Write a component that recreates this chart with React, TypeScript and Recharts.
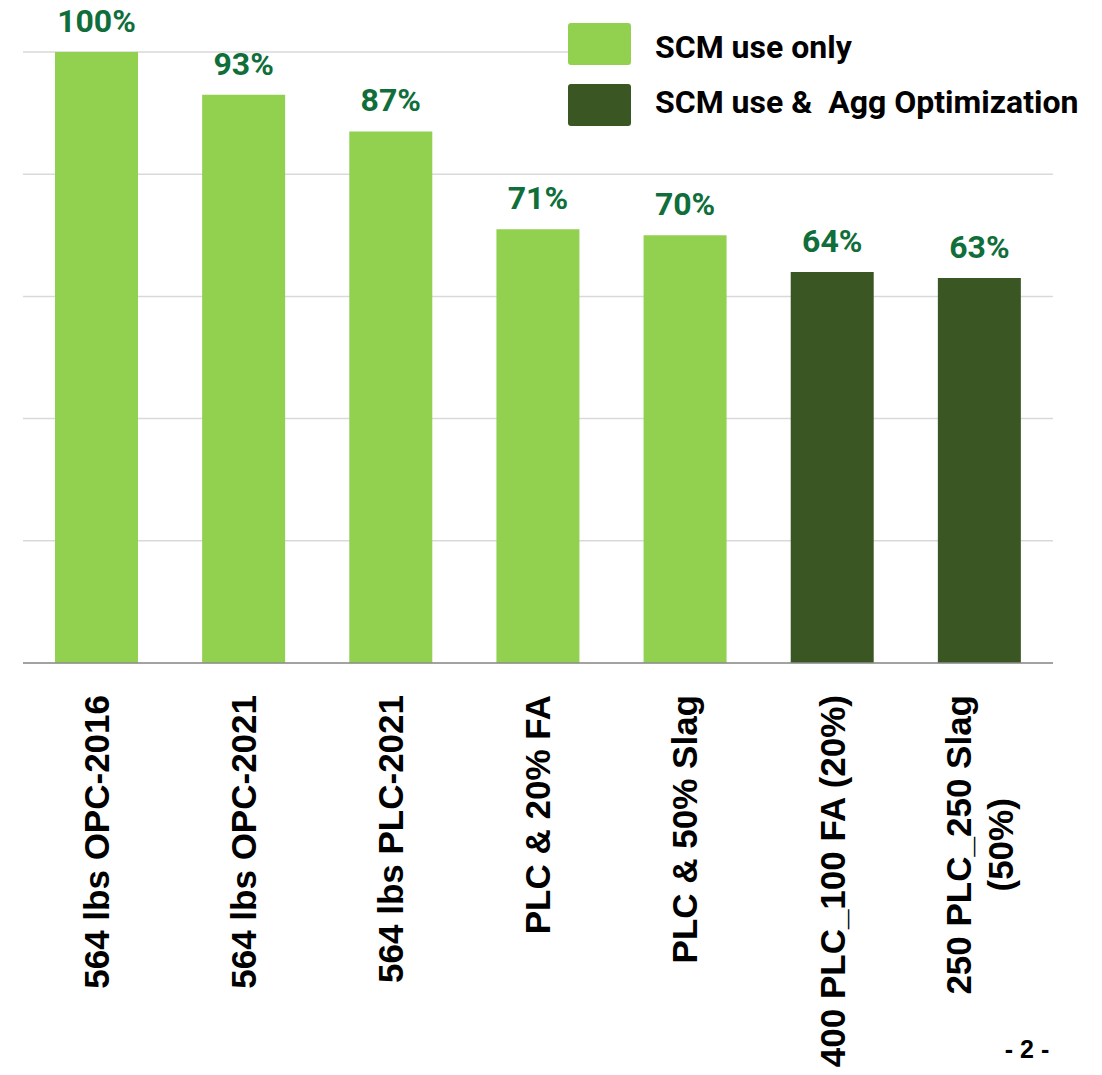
import { BarChart, Bar, XAxis, YAxis, CartesianGrid, Legend, LabelList, Cell } from 'recharts'

const mixes = [
  '564 lbs OPC-2016',
  '564 lbs OPC-2021',
  '564 lbs PLC-2021',
  'PLC & 20% FA',
  'PLC & 50% Slag',
  '400 PLC_100 FA (20%)',
  '250 PLC_250 Slag\n(50%)',
]
const relative = [100, 93, 87, 71, 70, 64, 63]
const group = [0, 0, 0, 0, 0, 1, 1]
const groupNames = ['SCM use only', 'SCM use &  Agg Optimization']
const groupColors = ['#92d050', '#3a5723']
const gridTicks = [0, 20, 40, 60, 80, 100]

const data = mixes.map((mix, i) => ({ mix, value: relative[i], group: group[i] }))

const TICK_FONT = 'bold 35px "Liberation Sans", Arial, sans-serif'
const LINE_H = 42

function textWidth(s: string) {
  const ctx = document.createElement('canvas').getContext('2d')
  if (!ctx) return s.length * 20
  ctx.font = TICK_FONT
  return ctx.measureText(s).width
}

function MixTick({ x, y, payload }: any) {
  const lines = String(payload.value).split('\n')
  const start = y + 24
  if (lines.length === 1) {
    return (
      <text
        transform={`translate(${x},${start}) rotate(-90)`}
        textAnchor="end"
        dy="0.35em"
        style={{ font: TICK_FONT }}
        fill="#000"
      >
        {lines[0]}
      </text>
    )
  }
  // wrapped label: lines centred on each other, longest one starts at the axis
  const w = Math.max(...lines.map(textWidth))
  const mid = start + w / 2
  return (
    <g>
      {lines.map((l, i) => (
        <text
          key={i}
          transform={`translate(${x + (i - (lines.length - 1) / 2) * LINE_H},${mid}) rotate(-90)`}
          textAnchor="middle"
          dy="0.35em"
          style={{ font: TICK_FONT }}
          fill="#000"
        >
          {l}
        </text>
      ))}
    </g>
  )
}

function GroupLegend() {
  return (
    <div style={{ background: '#fff', paddingBottom: 6 }}>
      {groupNames.map((name, i) => (
        <div key={name} style={{ display: 'flex', alignItems: 'center', height: 42, marginBottom: i === 0 ? 19 : 0 }}>
          <div style={{ width: 63, height: 42, borderRadius: 3, background: groupColors[i] }} />
          <span
            style={{
              marginLeft: 24,
              position: 'relative',
              top: i === 0 ? 3 : -3,
              font: 'bold 32px Roboto, sans-serif',
              color: '#000',
              whiteSpace: 'pre',
            }}
          >
            {name}
          </span>
        </div>
      ))}
    </div>
  )
}

export default function App() {
  // pulled up over the body margin so the chart uses the full page
  return (
    <div style={{ position: 'relative', width: 1102, height: 1075, margin: '-8px 0 0 -8px' }}>
      <BarChart width={1102} height={1075} data={data} margin={{ top: 52, right: 49, bottom: 0, left: 23 }}>
        <CartesianGrid vertical={false} stroke="#d9d9d9" strokeWidth={1.5} />
        <XAxis
          dataKey="mix"
          interval={0}
          height={412}
          tickLine={false}
          axisLine={{ stroke: '#8c8c8c', strokeWidth: 1.5 }}
          tick={<MixTick />}
        />
        <YAxis hide domain={[0, 100]} ticks={gridTicks} />
        {/* vertical + middle/center keeps the legend from taking space off the plot */}
        <Legend
          layout="vertical"
          verticalAlign="middle"
          align="center"
          content={<GroupLegend />}
          wrapperStyle={{ position: 'absolute', top: 23, left: 568, width: 534 }}
        />
        <Bar dataKey="value" barSize={83} isAnimationActive={false}>
          {data.map((d, i) => (
            <Cell key={i} fill={groupColors[d.group]} />
          ))}
          <LabelList
            dataKey="value"
            position="top"
            offset={20}
            formatter={(v: any) => `${v}%`}
            fill="#106e3a"
            style={{ font: 'bold 32px Roboto, sans-serif' }}
          />
        </Bar>
      </BarChart>
      <svg width={1102} height={1075} style={{ position: 'absolute', left: 0, top: 0, pointerEvents: 'none' }}>
        <text x={1027} y={1058} textAnchor="middle" style={{ font: 'bold 25px "Liberation Sans", Arial, sans-serif' }} fill="#000">
          - 2 -
        </text>
      </svg>
    </div>
  )
}
